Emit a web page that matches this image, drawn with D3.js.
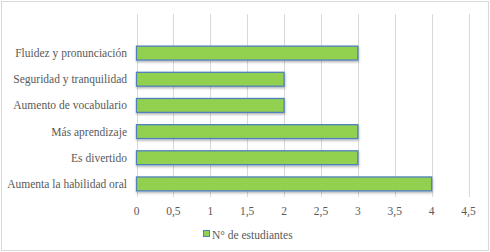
<!doctype html>
<html lang="es">
<head>
    <meta charset="utf-8">
    <title>N° de estudiantes</title>
    <script src="https://cdn.jsdelivr.net/npm/d3@7"></script>
    <style>
        body { margin: 0; background: #fff; }
        svg { display: block; }
    </style>
</head>
<body>
    <svg></svg>
    <script>
        var categories = ["Fluidez y pronunciación", "Seguridad y tranquilidad", "Aumento de vocabulario",
            "Más aprendizaje", "Es divertido", "Aumenta la habilidad oral"];
        var values = [3, 2, 2, 3, 3, 4];
        var ticks = [0, 0.5, 1, 1.5, 2, 2.5, 3, 3.5, 4, 4.5];
        var seriesName = "N° de estudiantes";

        var width = 490, height = 252;
        var fontFamily = "'Liberation Serif', serif";
        var fontSize = 11.5;
        var svg = d3.select("svg").attr("width", width).attr("height", height);

        // chart border
        svg.append("rect")
            .attr("x", 1.5).attr("y", 1.5)
            .attr("width", width - 3).attr("height", height - 3)
            .attr("fill", "#fff").attr("stroke", "#d9d9d9");

        var xScale = d3.scaleLinear().domain([0, 4.5]).range([136.5, 468.5]);
        var yScale = d3.scaleBand().domain(categories).range([40, 197]).paddingInner(0.47).paddingOuter(0.235);

        // shadow filter
        var defs = svg.append("defs");
        var f = defs.append("filter").attr("id", "shadow").attr("x", "-5%").attr("y", "-30%").attr("width", "110%").attr("height", "180%");
        f.append("feDropShadow").attr("dx", 0.5).attr("dy", 1.5).attr("stdDeviation", 1)
            .attr("flood-color", "#000").attr("flood-opacity", 0.3);

        // gridlines
        svg.append("g")
            .selectAll("line")
            .data(ticks)
            .enter()
            .append("line")
            .attr("x1", function (d) { return Math.round(xScale(d)) + 0.5; })
            .attr("x2", function (d) { return Math.round(xScale(d)) + 0.5; })
            .attr("y1", 14).attr("y2", 197)
            .attr("stroke", "#d9d9d9").attr("stroke-width", 1);

        // bars
        svg.append("g")
            .selectAll("rect")
            .data(values)
            .enter()
            .append("rect")
            .attr("x", xScale(0))
            .attr("y", function (d, i) { return yScale(categories[i]); })
            .attr("width", function (d) { return xScale(d) - xScale(0); })
            .attr("height", yScale.bandwidth())
            .attr("fill", "#92d050")
            .attr("stroke", "#4f81bd")
            .attr("stroke-width", 1.3)
            .attr("filter", "url(#shadow)");

        // category labels
        svg.append("g")
            .selectAll("text")
            .data(categories)
            .enter()
            .append("text")
            .attr("x", 127)
            .attr("y", function (d) { return yScale(d) + yScale.bandwidth() / 2; })
            .attr("dy", "0.35em")
            .attr("text-anchor", "end")
            .attr("font-family", fontFamily)
            .attr("font-size", fontSize)
            .attr("fill", "#595959")
            .text(function (d) { return d; });

        // x tick labels
        svg.append("g")
            .selectAll("text")
            .data(ticks)
            .enter()
            .append("text")
            .attr("x", function (d) { return xScale(d); })
            .attr("y", 215)
            .attr("text-anchor", "middle")
            .attr("font-family", fontFamily)
            .attr("font-size", fontSize)
            .attr("fill", "#595959")
            .text(function (d) { return String(d).replace(".", ","); });

        // legend
        var legend = svg.append("g").attr("transform", "translate(203, 235)");
        legend.append("rect")
            .attr("x", 0.5).attr("y", -4.5).attr("width", 6).attr("height", 6)
            .attr("fill", "#92d050").attr("stroke", "#4f81bd");
        legend.append("text")
            .attr("x", 9).attr("y", 0).attr("dy", "0.35em")
            .attr("font-family", fontFamily)
            .attr("font-size", fontSize)
            .attr("fill", "#595959")
            .text(seriesName);
    </script>
</body>
</html>
